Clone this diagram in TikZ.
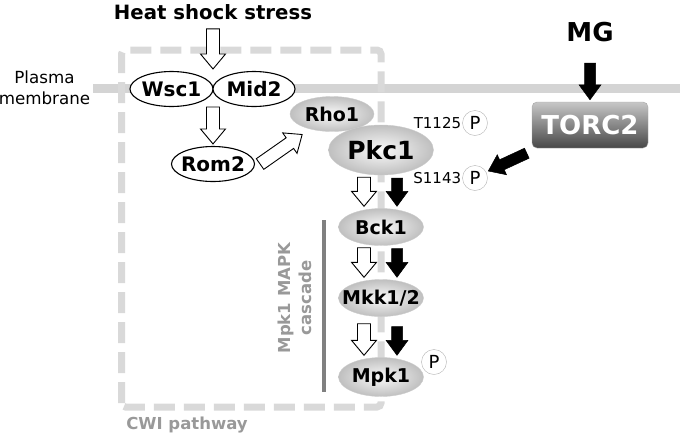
\documentclass[tikz,border=0pt]{standalone}
\usepackage{fontspec}
\setmainfont{DejaVu Sans}
\usetikzlibrary{positioning,calc,shapes.geometric}

\tikzset{
  barrow/.style n args={3}{to path={
    let \p1=($(\tikztotarget)!#3!(\tikztostart)$) in
    ($(\tikztostart)!#1!90:(\tikztotarget)$) -- ($(\p1)!#1!90:(\tikztotarget)$)
    -- ($(\p1)!#2!90:(\tikztotarget)$) -- (\tikztotarget)
    -- ($(\p1)!#2!-90:(\tikztotarget)$) -- ($(\p1)!#1!-90:(\tikztotarget)$)
    -- ($(\tikztostart)!#1!-90:(\tikztotarget)$) -- cycle}},
  hollow/.style={barrow={6.5pt}{12.5pt}{15pt}, draw, fill=white, line width=0.9pt, line join=miter},
  solidarr/.style={barrow={5.5pt}{11pt}{15pt}, draw, fill=black, line width=0.5pt, line join=miter}
}

\begin{document}
\begin{tikzpicture}[x=1pt, y=-1pt,
  wbub/.style={ellipse, draw, line width=1.1pt, fill=white, minimum width=83pt, minimum height=35pt,
    inner xsep=-15pt, inner ysep=-3pt, font=\fontsize{20}{24}\selectfont\bfseries},
  gbub/.style={ellipse, draw=black!20, inner color=black!2, outer color=black!25, minimum width=85pt,
    minimum height=37pt, inner xsep=-15pt, inner ysep=-3pt, font=\fontsize{19}{23}\selectfont\bfseries},
  pbub/.style={circle, draw=black!30, fill=white, inner sep=0pt, minimum size=25pt, font=\fontsize{18}{18}\selectfont},
  plab/.style={inner sep=0pt, font=\fontsize{15}{15}\selectfont},
  graytxt/.style={text=black!40, font=\fontsize{16.5}{21}\selectfont\bfseries, align=center}
]
\useasboundingbox (0,0) rectangle (680,437);

% membrane and CWI frame
\draw[black!17, line width=9pt] (93,88) -- (680,88);
\draw[black!15, line width=7pt, dash pattern=on 21pt off 9pt, rounded corners=4pt]
  (121.5,407) -- (121.5,50) -- (381,50) -- (381,407) -- cycle;
\draw[black!50, line width=4.5pt] (324,220) -- (324,392);

\node[inner sep=0pt, font=\fontsize{19.7}{20}\selectfont\bfseries] (heat) at (213,12) {Heat shock stress};
\node[align=center, font=\fontsize{16.7}{21}\selectfont] (pm) at (44.5,87.5) {Plasma\\membrane};
\node[wbub] (wsc) at (171.5,89) {Wsc1};
\node[wbub, minimum width=82pt] (mid) at (254,89) {Mid2};
\node[wbub] (rom) at (213,164) {Rom2};
\node[gbub, minimum width=84pt, minimum height=35pt] (rho) at (332,114) {Rho1};
\node[gbub, minimum width=105pt, minimum height=50pt, font=\fontsize{25}{28}\selectfont\bfseries] (pkc) at (381,150) {Pkc1};
\node[gbub] (bck) at (381,227) {Bck1};
\node[gbub] (mkk) at (381,298) {Mkk1/2};
\node[gbub, minimum height=39pt] (mpk) at (381,377) {Mpk1};
\node[pbub] (p1) at (475,123) {P};
\node[pbub] (p2) at (475,178) {P};
\node[pbub] (p3) at (434,362) {P};
\node[plab, left=1pt of p1] (t1125) {T1125};
\node[plab, left=1pt of p2] (s1143) {S1143};
\node[rounded corners=5pt, draw=black!35, top color=black!22, bottom color=black!72, minimum width=116pt,
  minimum height=46pt, text=white, font=\fontsize{26}{26}\selectfont\bfseries] (tor) at (590,125) {TORC2};
\node[inner sep=0pt, font=\fontsize{26}{26}\selectfont\bfseries] (mg) at (590,32) {MG};
\node[graytxt, rotate=90] (casc) at (295,298) {Mpk1 MAPK\\cascade};
\node[graytxt] (cwi) at (187,425) {CWI pathway};

% arrows
\coordinate (wm) at ($(wsc.east)!0.5!(mid.west)$);
\draw[hollow] ([yshift=-9pt]heat.south) to ([yshift=20pt]wm);
\draw[hollow] ([yshift=-18pt]wm) to ([yshift=2pt]rom.north);
\draw[hollow] ([xshift=5pt]rom.east) to ([yshift=-8pt]rho.south west);
\foreach \a/\b in {pkc/bck, bck/mkk} {
  \draw[hollow] ([xshift=-17pt,yshift=-2pt]\a.south) to ([xshift=-17pt,yshift=2pt]\b.north);
  \draw[solidarr] ([xshift=16pt,yshift=-3pt]\a.south) to ([xshift=16pt,yshift=2pt]\b.north);
}
\draw[hollow] ([xshift=-17pt,yshift=-7pt]mkk.south) to ([xshift=-17pt,yshift=2pt]mpk.north);
\draw[solidarr] ([xshift=16pt,yshift=-10pt]mkk.south) to ([xshift=16pt,yshift=2pt]mpk.north);
\draw[solidarr] ([yshift=-21pt]mg.south) to ([yshift=2pt]tor.north);
\draw[solidarr] ([shift={(-5pt,-5pt)}]tor.south west) to ($(p2)!15pt!(tor.south west)$);
\end{tikzpicture}
\end{document}
